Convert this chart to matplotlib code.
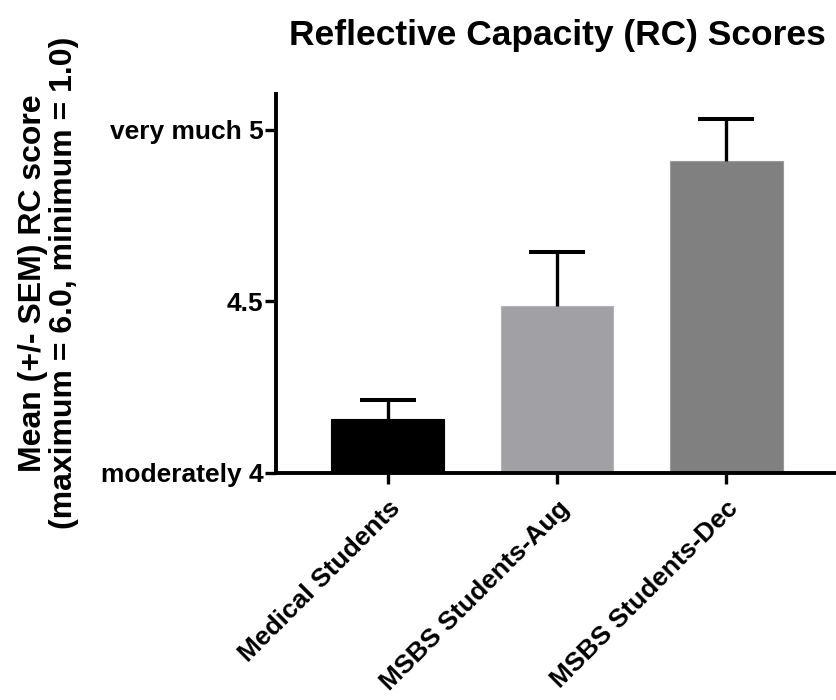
import matplotlib
matplotlib.use("Agg")
import matplotlib.pyplot as plt

categories = ["Medical Students", "MSBS Students-Aug", "MSBS Students-Dec"]
means = [4.156, 4.487, 4.909]
sems = [0.056, 0.156, 0.123]
colors = ["#000000", "#A1A0A5", "#808080"]
ytick_vals = [4, 4.5, 5]
ytick_labels = ["moderately 4", "4.5", "very much 5"]

plt.rcParams['font.family'] = ['Liberation Sans', 'DejaVu Sans']
plt.rcParams['font.weight'] = 'bold'

fig = plt.figure(figsize=(8.37, 7.0), dpi=100)
ax = fig.add_axes([276/837, (700-472.5)/700, (838-276)/837, (472.5-94)/700])

x = list(range(len(categories)))
ax.bar(x, means, width=0.667, color=colors, bottom=0, zorder=2,
       edgecolor=["#000000", "#B4B4B8", "#9A9A9A"], linewidth=0.8)
eb = ax.errorbar(x, means, yerr=[[0]*len(sems), sems], fmt='none', ecolor='black',
                 elinewidth=2.4, capsize=20, capthick=2.9, zorder=3)
# hide the zero-length lower caps
eb[1][0].set_visible(False)

ax.set_xlim(-0.66, 2.66)
ax.set_ylim(4, 5.105)
ax.set_yticks(ytick_vals)
ax.set_yticklabels(ytick_labels, fontsize=19, fontweight='bold')
ax.set_xticks(x)
ax.set_xticklabels(categories, fontsize=19, fontweight='bold', rotation=45,
                   ha='right', rotation_mode='anchor')

for side in ['top', 'right']:
    ax.spines[side].set_visible(False)
for side in ['left', 'bottom']:
    ax.spines[side].set_linewidth(2.8)
ax.tick_params(axis='both', width=2.4, length=8, color='black')
ax.tick_params(axis='y', pad=1)
ax.tick_params(axis='x', pad=9)

ax.set_ylabel("Mean (+/- SEM) RC score\n(maximum = 6.0, minimum = 1.0)",
              fontsize=23, fontweight='bold', labelpad=16, linespacing=1.03)
ax.set_title("Reflective Capacity (RC) Scores", fontsize=25.5, fontweight='bold', pad=35)

fig.savefig("out.png", dpi=100)
